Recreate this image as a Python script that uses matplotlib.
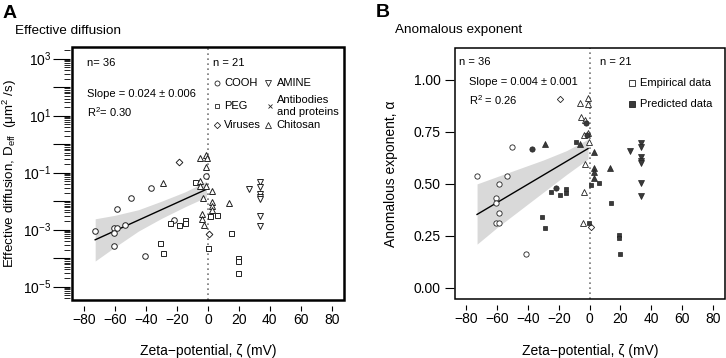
import numpy as np
import matplotlib
matplotlib.use("Agg")
import matplotlib.pyplot as plt
from matplotlib.ticker import FixedLocator, NullFormatter
from matplotlib.patches import Rectangle

plt.rcParams['font.family'] = ['Liberation Sans', 'DejaVu Sans']
plt.rcParams['mathtext.fontset'] = 'custom'
plt.rcParams['mathtext.rm'] = 'Liberation Sans'
plt.rcParams['mathtext.it'] = 'Liberation Sans:italic'
plt.rcParams['mathtext.bf'] = 'Liberation Sans:bold'
plt.rcParams['mathtext.sf'] = 'Liberation Sans'

# ---------------- Panel A data: zeta (mV), D_eff (um^2/s) ----------------
a_cooh_z = [-72.8, -61.0, -58.8, -61.0, -61.0, -53.9, -58.8, -49.7, -37.2, -40.9, -21.7, -1.6]
a_cooh_d = [9.3e-4, 1.12e-3, 1.12e-3, 7.4e-4, 2.7e-4, 1.5e-3, 5.4e-3, 1.26e-2, 2.95e-2, 1.2e-4, 2.2e-3, 7.9e-2]
a_peg_z = [-24.7, -18.7, -15.2, -15.2, -30.8, -29.0, -8.1, 1.0, 6.0, 14.6, 19.5, 19.5, 19.5, 0.0]
a_peg_d = [1.66e-3, 1.45e-3, 2.2e-3, 1.66e-3, 3.3e-4, 1.48e-4, 4.6e-2, 3.0e-3, 3.2e-3, 7.9e-4, 1.0e-4, 8.1e-5, 3.0e-5, 2.3e-4]
a_virus_z = [-18.7, 0.5]
a_virus_d = [0.24, 6.9e-4]
a_chito_z = [-29.0, -5.5, -1.6, -0.5, -1.6, -5.5, -4.9, -1.2, -3.4, -4.2, -3.8, -2.7, 2.7, 2.7, 2.7, 2.3, 13.5]
a_chito_d = [4.3e-2, 0.32, 0.42, 0.32, 0.16, 4.9e-2, 3.5e-2, 3.4e-2, 1.26e-2, 3.5e-3, 2.4e-3, 1.45e-3,
             2.3e-2, 9.5e-3, 6.8e-3, 4.8e-3, 8.9e-3]
a_amine_z = [26.4, 33.6, 33.6, 33.6, 33.6, 33.6, 33.6, 33.6]
a_amine_d = [2.6e-2, 4.6e-2, 3.2e-2, 1.74e-2, 1.45e-2, 1.17e-2, 2.9e-3, 1.35e-3]
a_fit_z = [-73, -1]
a_fit_d = [4.4e-4, 2.6e-2]
a_band_z = [-73, -60, -45, -30, -15, -1]
a_band_hi = [2.4e-3, 3.2e-3, 5.0e-3, 1.0e-2, 2.1e-2, 5.0e-2]
a_band_lo = [7.9e-5, 2.5e-4, 8.9e-4, 2.5e-3, 6.3e-3, 1.4e-2]

# ---------------- Panel B data: zeta (mV), anomalous exponent ----------------
b_cooh_open_z = [-72.9, -53.9, -58.9, -61.0, -61.0, -58.9, -61.0, -58.9, -41.0, -50.3]
b_cooh_open_a = [0.539, 0.539, 0.498, 0.430, 0.409, 0.358, 0.310, 0.310, 0.161, 0.679]
b_cooh_fill_z = [-37.3, -21.5, -2.2, -2.0]
b_cooh_fill_a = [0.669, 0.480, 0.791, 0.735]
b_peg_fill_z = [-25.2, -19.0, -15.5, -15.5, -30.6, -29.1, -8.5, 1.1, 6.0, 14.0, 19.0, 19.0, 19.4, -0.6]
b_peg_fill_a = [0.459, 0.448, 0.477, 0.457, 0.342, 0.286, 0.700, 0.494, 0.503, 0.406, 0.254, 0.238, 0.162, 0.313]
b_virus_open_z = [-19.0, 1.1]
b_virus_open_a = [0.909, 0.294]
b_chito_open_z = [-6.0, -1.1, -1.1, -5.4, -3.2, -3.9, -1.1, -0.6, -3.2, -3.9, -4.3]
b_chito_open_a = [0.891, 0.912, 0.884, 0.823, 0.807, 0.735, 0.746, 0.703, 0.596, 0.462, 0.313]
b_chito_fill_z = [-29.1, -6.5, 2.6, 2.6, 2.6, 2.6, 13.4]
b_chito_fill_a = [0.690, 0.692, 0.655, 0.575, 0.559, 0.527, 0.575]
b_amine_fill_z = [26.5, 33.5, 33.5, 33.5, 33.5, 33.5, 33.5, 33.5]
b_amine_fill_a = [0.658, 0.698, 0.679, 0.628, 0.611, 0.599, 0.506, 0.441]
b_fit_z = [-73, -1]
b_fit_a = [0.353, 0.670]
b_band_z = [-73, -60, -45, -30, -15, -1]
b_band_hi = [0.50, 0.535, 0.575, 0.615, 0.66, 0.715]
b_band_lo = [0.21, 0.29, 0.375, 0.46, 0.545, 0.62]

x_ticks = [-80, -60, -40, -20, 0, 20, 40, 60, 80]
a_ytick_exp = [-5, -4, -3, -2, -1, 0, 1, 2, 3]
b_yticks = [0.00, 0.25, 0.50, 0.75, 1.00]

W, H = 726, 358
fig = plt.figure(figsize=(W / 100, H / 100), dpi=100)

BAND = '#d9d9d9'
EDGE = '#222222'
FILL = '#3a3a3a'
PX = 0.72  # points per pixel
XLABEL = 'Zeta\u2212potential, \u03b6 (mV)'

def frame(ax, lw):
    for s in ax.spines.values():
        s.set_color('none')
    ax.add_patch(Rectangle((0, 0), 1, 1, transform=ax.transAxes, fill=False,
                           lw=lw, ec='black', clip_on=False, zorder=10))

def xlabels(vals):
    return [('\u2212%d' % -v) if v < 0 else '%d' % v for v in vals]

# ====================== Panel A ======================
axA = fig.add_axes([72 / W, (H - 300) / H, 272 / W, 253 / H])
axA.set_yscale('log')
axA.fill_between(a_band_z, a_band_lo, a_band_hi, color=BAND, lw=0, zorder=1)
axA.plot(a_fit_z, a_fit_d, color='black', lw=1.0, zorder=2)
axA.axvline(0, color='#777777', ls=(0, (1, 2)), lw=1.2, zorder=1.5)

mk = dict(ls='none', mfc='white', mec=EDGE, mew=0.7, zorder=3)
axA.plot(a_cooh_z, a_cooh_d, marker='o', ms=4.0, **mk)
axA.plot(a_peg_z, a_peg_d, marker='s', ms=3.6, **mk)
axA.plot(a_virus_z, a_virus_d, marker='D', ms=3.4, **mk)
axA.plot(a_chito_z, a_chito_d, marker='^', ms=4.6, **mk)
axA.plot(a_amine_z, a_amine_d, marker='v', ms=4.6, **mk)

axA.set_xlim(-88, 88)
axA.set_ylim(10 ** -5.47, 10 ** 3.41)
frame(axA, 1.8)
axA.spines['left'].set_position(('outward', 2 * PX))
axA.spines['bottom'].set_position(('outward', 6 * PX))
axA.set_xticks(x_ticks)
axA.set_xticklabels(xlabels(x_ticks))
axA.yaxis.set_major_locator(FixedLocator([10.0 ** e for e in a_ytick_exp]))
axA.set_yticklabels([(r'$10^{%d}$' % e) if e % 2 != 0 else '' for e in a_ytick_exp])
minors = [m * 10.0 ** e for e in range(-6, 4) for m in range(2, 10)]
axA.yaxis.set_minor_locator(FixedLocator(minors))
axA.yaxis.set_minor_formatter(NullFormatter())
axA.tick_params(axis='x', which='major', length=5 * PX, width=0.8, pad=1.2, labelsize=10)
axA.tick_params(axis='y', which='major', length=12, width=0.8, pad=1.5, labelsize=10)
axA.tick_params(axis='y', which='minor', length=4.5, width=0.6)
axA.tick_params(top=False, right=False)

fig.text(10 / W, 1 - 173.5 / H, 'Effective diffusion, D$_{\\mathrm{eff}}$  (\u03bcm$^2$ /s)',
         fontsize=9.6, rotation=90, ha='center', va='center')
fig.text(208 / W, 1 - 355 / H, XLABEL, fontsize=10, ha='center', va='baseline')

tA = dict(transform=axA.transAxes, fontsize=8, va='center', ha='left')
axA.text(0.055, 0.938, 'n= 36', **tA)
axA.text(0.055, 0.813, 'Slope = 0.024 \u00b1 0.006', **tA)
axA.text(0.055, 0.743, 'R$^2$= 0.30', **tA)
axA.text(0.518, 0.938, 'n = 21', **tA)
# legend
lk = dict(transform=axA.transAxes, ls='none', mfc='white', mec=EDGE, mew=0.6, clip_on=False)
axA.plot([0.532], [0.856], marker='o', ms=3.6, **lk)
axA.plot([0.532], [0.767], marker='s', ms=3.3, **lk)
axA.plot([0.532], [0.690], marker='D', ms=3.2, **lk)
axA.plot([0.722], [0.856], marker='v', ms=4.2, **lk)
axA.plot([0.727], [0.767], marker='x', ms=3.4, **lk)
axA.plot([0.722], [0.690], marker='^', ms=4.2, **lk)
axA.text(0.559, 0.856, 'COOH', **tA)
axA.text(0.559, 0.767, 'PEG', **tA)
axA.text(0.559, 0.690, 'Viruses', **tA)
axA.text(0.753, 0.856, 'AMINE', **tA)
axA.text(0.753, 0.791, 'Antibodies', **tA)
axA.text(0.753, 0.744, 'and proteins', **tA)
axA.text(0.753, 0.690, 'Chitosan', **tA)

fig.text(3 / W, 1 - 13.3 / H, 'A', fontsize=14, fontweight='bold', va='center', ha='left')
fig.text(15 / W, 1 - 31.5 / H, 'Effective diffusion', fontsize=9.7, va='center', ha='left')

# ====================== Panel B ======================
axB = fig.add_axes([454.7 / W, (H - 299) / H, 269.8 / W, 251 / H])
axB.fill_between(b_band_z, b_band_lo, b_band_hi, color=BAND, lw=0, zorder=1)
axB.plot(b_fit_z, b_fit_a, color='black', lw=1.0, zorder=2)
axB.axvline(0, color='#777777', ls=(0, (1, 2)), lw=1.2, zorder=1.5)

mo = dict(ls='none', mfc='white', mec=EDGE, mew=0.6, zorder=3)
mf = dict(ls='none', mfc=FILL, mec=EDGE, mew=0.5, zorder=3)
axB.plot(b_cooh_open_z, b_cooh_open_a, marker='o', ms=3.8, **mo)
axB.plot(b_virus_open_z, b_virus_open_a, marker='D', ms=3.2, **mo)
axB.plot(b_chito_open_z, b_chito_open_a, marker='^', ms=4.3, **mo)
axB.plot(b_cooh_fill_z, b_cooh_fill_a, marker='o', ms=3.8, **mf)
axB.plot(b_peg_fill_z, b_peg_fill_a, marker='s', ms=3.4, **mf)
axB.plot(b_chito_fill_z, b_chito_fill_a, marker='^', ms=4.3, **mf)
axB.plot(b_amine_fill_z, b_amine_fill_a, marker='v', ms=4.3, **mf)

axB.set_xlim(-87.5, 87.5)
axB.set_ylim(-0.054, 1.154)
frame(axB, 1.1)
axB.spines['left'].set_position(('outward', 1 * PX))
axB.spines['bottom'].set_position(('outward', 6 * PX))
axB.set_xticks(x_ticks)
axB.set_xticklabels(xlabels(x_ticks))
axB.set_yticks(b_yticks)
axB.set_yticklabels(['%.2f' % v for v in b_yticks])
axB.tick_params(axis='x', length=5 * PX, width=0.8, pad=1.5, labelsize=10)
axB.tick_params(axis='y', length=6.5, width=0.8, pad=3.0, labelsize=10)
axB.tick_params(top=False, right=False)
fig.text(390.5 / W, 1 - 173.5 / H, 'Anomalous exponent, \u03b1', fontsize=10,
         rotation=90, ha='center', va='center')
fig.text(590 / W, 1 - 355 / H, XLABEL, fontsize=10, ha='center', va='baseline')

tB = dict(transform=axB.transAxes, fontsize=8, va='center', ha='left')
axB.text(0.016, 0.945, 'n = 36', **tB)
axB.text(0.053, 0.866, 'Slope = 0.004 \u00b1 0.001', **tB)
axB.text(0.053, 0.793, 'R$^2$ = 0.26', **tB)
axB.text(0.54, 0.945, 'n = 21', **tB)
axB.plot([0.657], [0.859], marker='s', ms=4.6, transform=axB.transAxes, ls='none',
         mfc='white', mec=EDGE, mew=0.6, clip_on=False)
axB.plot([0.657], [0.776], marker='s', ms=4.6, transform=axB.transAxes, ls='none',
         mfc=FILL, mec=EDGE, mew=0.6, clip_on=False)
axB.text(0.686, 0.859, 'Empirical data', **tB)
axB.text(0.686, 0.776, 'Predicted data', **tB)

fig.text(376 / W, 1 - 12.5 / H, 'B', fontsize=14, fontweight='bold', va='center', ha='left')
fig.text(394.7 / W, 1 - 30 / H, 'Anomalous exponent', fontsize=9.7, va='center', ha='left')

fig.savefig('out.png', dpi=100)
